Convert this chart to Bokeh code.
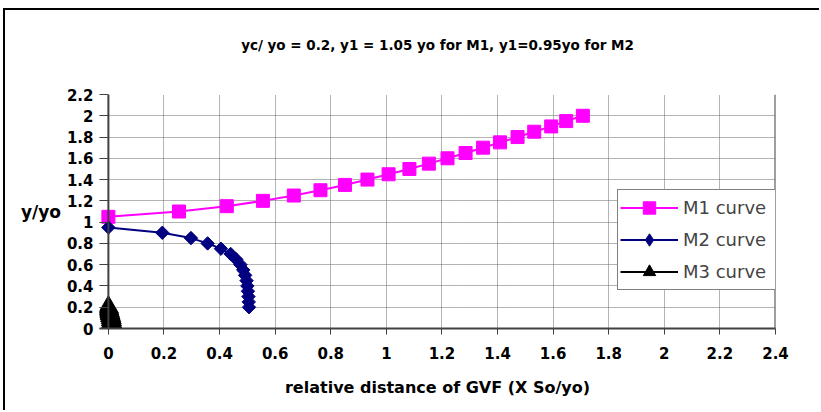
from bokeh.plotting import figure
from bokeh.models import (Range1d, FixedTicker, Legend, LegendItem, Span,
                          LinearAxis)
from bokeh.embed import file_html
from bokeh.resources import INLINE
import numpy as np

# Relative GVF distance (X So/yo) and depth ratio (y/yo) for each profile
m1_x = [0.0, 0.254, 0.426, 0.556, 0.667, 0.763, 0.851, 0.932, 1.008, 1.083,
        1.153, 1.22, 1.285, 1.348, 1.409, 1.472, 1.532, 1.593, 1.647, 1.707]
m1_y = [1.05, 1.10, 1.15, 1.20, 1.25, 1.30, 1.35, 1.40, 1.45, 1.50,
        1.55, 1.60, 1.65, 1.70, 1.75, 1.80, 1.85, 1.90, 1.95, 2.00]

m2_x = [0.0, 0.194, 0.297, 0.357, 0.405, 0.44, 0.46, 0.475, 0.485, 0.492,
        0.497, 0.50, 0.502, 0.504, 0.505, 0.506]
m2_y = [0.95, 0.90, 0.85, 0.80, 0.75, 0.70, 0.65, 0.60, 0.55, 0.50,
        0.45, 0.40, 0.35, 0.30, 0.25, 0.20]

m3_x = [0.0, 0.002, 0.004, 0.006, 0.008, 0.01, 0.011, 0.012, 0.013, 0.014]
m3_y = [0.20, 0.18, 0.16, 0.14, 0.12, 0.10, 0.08, 0.06, 0.04, 0.02]

x_ticks = [0, 0.2, 0.4, 0.6, 0.8, 1, 1.2, 1.4, 1.6, 1.8, 2, 2.2, 2.4]
y_ticks = [0, 0.2, 0.4, 0.6, 0.8, 1, 1.2, 1.4, 1.6, 1.8, 2, 2.2]

TITLE = "yc/ yo = 0.2, y1 = 1.05 yo for M1, y1=0.95yo for M2"
FONT = "DejaVu Sans"
AXIS_GREY = "#404040"

# small margin on the left of x=0 so the first markers are not cut off
p = figure(width=816, height=402, output_backend="svg", toolbar_location=None,
           x_range=Range1d(-0.032, 2.4), y_range=Range1d(0, 2.2),
           min_border_left=94, min_border_right=46,
           min_border_top=84, min_border_bottom=84,
           background_fill_color="white", border_fill_color="white")
p.outline_line_color = None
p.title.visible = False
# chart frame: left and top edges
p.styles = {"border-top": "2px solid black", "border-left": "2px solid black",
            "margin-top": "8px", "margin-left": "3px"}

# axes
for ax in (p.xaxis[0], p.yaxis[0]):
    ax.axis_line_color = AXIS_GREY
    ax.axis_line_width = 2
    ax.major_tick_line_color = AXIS_GREY
    ax.major_tick_line_width = 1
    ax.major_tick_in = 0
    ax.minor_tick_line_color = None
    ax.major_label_text_font = FONT
    ax.major_label_text_font_style = "bold"
    ax.major_label_text_font_size = "15px"
    ax.major_label_text_color = "black"
    ax.axis_label_text_font = FONT
    ax.axis_label_text_font_style = "bold"
    ax.axis_label_text_color = "black"

p.xaxis.ticker = FixedTicker(ticks=x_ticks)
p.yaxis.ticker = FixedTicker(ticks=y_ticks)
p.xaxis.major_tick_out = 6
p.xaxis.major_label_standoff = 12
p.xaxis.axis_label = "relative distance of GVF (X So/yo)"
p.xaxis.axis_label_text_font_size = "16px"
p.xaxis.axis_label_standoff = 16

# y axis: labels sit left of the plot area, ticks reach in to x = 0
p.yaxis.axis_line_color = None
p.yaxis.major_tick_out = 0
p.yaxis.major_tick_in = 9
p.yaxis.major_label_standoff = 6
p.yaxis.axis_label = "y/yo"
p.yaxis.axis_label_text_font_size = "17px"
p.yaxis.axis_label_orientation = "horizontal"
p.yaxis.axis_label_standoff = 3
p.add_layout(Span(location=0, dimension="height", line_color=AXIS_GREY,
                  line_width=2))

# title drawn as the label of a bare axis above the plot area
top_axis = LinearAxis(ticker=FixedTicker(ticks=[]), axis_line_color=None,
                      major_tick_line_color=None, minor_tick_line_color=None,
                      major_label_text_font_size="0px", axis_label=TITLE,
                      axis_label_text_font=FONT,
                      axis_label_text_font_style="bold",
                      axis_label_text_font_size="13.5px",
                      axis_label_text_color="black",
                      axis_label_standoff=42)
p.add_layout(top_axis, "above")

# dotted grid
for g in (p.xgrid[0], p.ygrid[0]):
    g.grid_line_color = "#666666"
    g.grid_line_dash = "1 1"
    g.grid_line_width = 1

# right edge of the plot area
p.add_layout(Span(location=2.4, dimension="height", line_color=AXIS_GREY,
                  line_width=2))

# curves
l1 = p.line(m1_x, m1_y, line_color="#ff00ff", line_width=2)
s1 = p.scatter(m1_x, m1_y, marker="square", size=13, fill_color="#ff00ff",
               line_color="#ff00ff")
l2 = p.line(m2_x, m2_y, line_color="#000080", line_width=2)
s2 = p.scatter(m2_x, m2_y, marker="square", angle=np.pi / 4, size=9.5,
               fill_color="#000080", line_color="#000080")
l3 = p.line(m3_x, m3_y, line_color="black", line_width=2)
s3 = p.scatter(m3_x, m3_y, marker="triangle", size=20, fill_color="black",
               line_color="black")
# diamond key for the legend (a single empty point)
k2 = p.scatter([float("nan")], [float("nan")], marker="diamond", size=15,
               fill_color="#000080", line_color="#000080")

legend = Legend(items=[LegendItem(label="M1 curve", renderers=[l1, s1]),
                       LegendItem(label="M2 curve", renderers=[l2, k2]),
                       LegendItem(label="M3 curve", renderers=[l3, s3])],
                location=(518, 38), border_line_color="black",
                border_line_width=1, background_fill_color="white",
                background_fill_alpha=1.0, glyph_width=58, glyph_height=31,
                label_height=31, label_width=94, spacing=1, padding=2,
                label_standoff=5, label_text_font=FONT,
                label_text_font_size="18px", margin=0)
p.add_layout(legend, "center")

open("out.html", "w").write(file_html(p, INLINE))
